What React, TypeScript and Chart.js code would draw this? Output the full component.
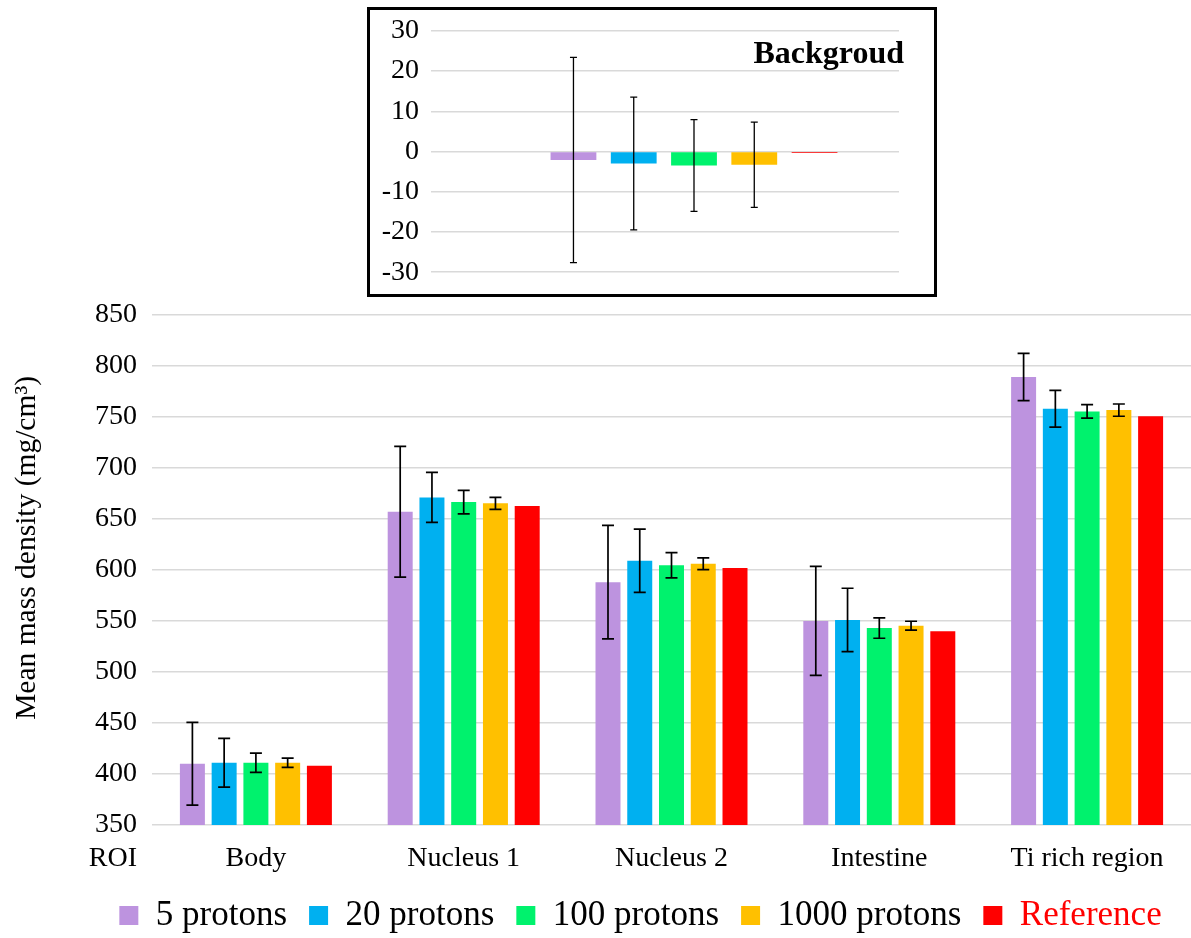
import React, { useEffect, useRef } from 'react';
import { Chart, registerables } from 'chart.js';

Chart.register(...registerables);

const FONT = '"Liberation Serif", "Times New Roman", serif';
Chart.defaults.font.family = FONT;
Chart.defaults.color = '#000';

// ---------- data ----------
const categories = ['Body', 'Nucleus 1', 'Nucleus 2', 'Intestine', 'Ti rich region'];
const seriesNames = ['5 protons', '20 protons', '100 protons', '1000 protons', 'Reference'];
const seriesColors = ['#BD93DF', '#00B0F0', '#00F26D', '#FFC000', '#FF0000'];

const p5 = [410, 657, 588, 550, 789];
const p5Err = [40.5, 64, 55.6, 53.4, 23.2];
const p20 = [411, 671, 609, 551, 758];
const p20Err = [23.9, 24.5, 31, 31, 18];
const p100 = [411, 666.5, 604.5, 543, 755.3];
const p100Err = [9.5, 11.5, 12.4, 10, 6.6];
const p1000 = [411, 665.2, 606, 545.3, 756.6];
const p1000Err = [4.5, 5.9, 5.7, 4.4, 6];
const reference = [408, 662.6, 601.8, 539.8, 750.7];

const mainYTicks = [350, 400, 450, 500, 550, 600, 650, 700, 750, 800, 850];
const yTitle = 'Mean mass density (mg/cm³)';

const bgCategory = ['Backgroud'];
const bgValues = [-2.1, -3.0, -3.5, -3.3, -0.4];
const bgErr = [25.5, 16.5, 11.4, 10.6, null];
const bgYTicks = [-30, -20, -10, 0, 10, 20, 30];

const mainValues = [p5, p20, p100, p1000, reference];
const mainErrs = [p5Err, p20Err, p100Err, p1000Err, null];

// ---------- plugins ----------
function errorBarPlugin(getErr: (di: number, i: number) => number | null, capHalf: number, lw: number) {
  return {
    id: 'errorBars',
    afterDatasetsDraw(chart: any) {
      const { ctx } = chart;
      const y = chart.scales.y;
      ctx.save();
      ctx.strokeStyle = '#000';
      ctx.lineWidth = lw;
      chart.data.datasets.forEach((ds: any, di: number) => {
        const meta = chart.getDatasetMeta(di);
        meta.data.forEach((bar: any, i: number) => {
          const e = getErr(di, i);
          if (e == null) return;
          const v = ds.data[i] as number;
          const x = bar.x;
          const yt = y.getPixelForValue(v + e);
          const yb = y.getPixelForValue(v - e);
          ctx.beginPath();
          ctx.moveTo(x, yt);
          ctx.lineTo(x, yb);
          ctx.moveTo(x - capHalf, yt);
          ctx.lineTo(x + capHalf, yt);
          ctx.moveTo(x - capHalf, yb);
          ctx.lineTo(x + capHalf, yb);
          ctx.stroke();
        });
      });
      ctx.restore();
    },
  };
}

const X_TICK_PAD = 17;
const X_TICK_SIZE = 28;

const labelsPlugin = {
  id: 'extraLabels',
  afterDraw(chart: any) {
    const { ctx, chartArea } = chart;
    const xs = chart.scales.x;
    ctx.save();
    ctx.fillStyle = '#000';
    // "ROI" caption in front of the category labels
    ctx.font = `${X_TICK_SIZE}px ${FONT}`;
    ctx.textAlign = 'right';
    ctx.textBaseline = 'middle';
    ctx.fillText('ROI', chartArea.left - 15, xs.top + X_TICK_PAD + (X_TICK_SIZE * 1.2) / 2);
    // rotated y-axis title
    ctx.translate(27, (chartArea.top + chartArea.bottom) / 2 - 22);
    ctx.rotate(-Math.PI / 2);
    ctx.font = `29.5px ${FONT}`;
    ctx.textAlign = 'center';
    ctx.textBaseline = 'middle';
    ctx.fillText(yTitle, 0, 0);
    ctx.restore();
  },
};

const LEGEND_SHIFT = 45;
const legendShiftPlugin = {
  id: 'legendShift',
  afterLayout(chart: any) {
    const l = chart.legend;
    if (l) {
      l.left += LEGEND_SHIFT;
      l.right += LEGEND_SHIFT;
    }
  },
};

const bgTitlePlugin = {
  id: 'bgTitle',
  afterDraw(chart: any) {
    const { ctx, chartArea } = chart;
    ctx.save();
    ctx.font = `bold 32px ${FONT}`;
    ctx.fillStyle = '#000';
    ctx.textAlign = 'right';
    ctx.textBaseline = 'alphabetic';
    ctx.fillText('Backgroud', chartArea.right + 5, chartArea.top + 31.7);
    ctx.restore();
  },
};

// ---------- main chart ----------
function MainChart() {
  const ref = useRef<HTMLCanvasElement>(null);
  useEffect(() => {
    const chart = new Chart(ref.current as HTMLCanvasElement, {
      type: 'bar',
      data: {
        labels: categories,
        datasets: seriesNames.map((name, i) => ({
          label: name,
          data: mainValues[i],
          backgroundColor: seriesColors[i],
          borderColor: seriesColors[i],
          borderWidth: 0,
          categoryPercentage: 0.764,
          barPercentage: 0.787,
        })),
      },
      options: {
        responsive: false,
        animation: false,
        layout: { padding: 0 },
        plugins: {
          tooltip: { enabled: false },
          legend: {
            position: 'bottom',
            labels: {
              font: { size: 35 },
              boxWidth: 19,
              boxHeight: 19,
              padding: 22,
              color: '#000',
              generateLabels(chart: any) {
                const items = (Chart.defaults.plugins.legend.labels as any).generateLabels(chart);
                items.forEach((it: any, i: number) => {
                  it.lineWidth = 0;
                  it.strokeStyle = seriesColors[i];
                  it.fillStyle = seriesColors[i];
                  it.fontColor = i === items.length - 1 ? '#FF0000' : '#000';
                });
                return items;
              },
            },
          },
        },
        scales: {
          x: {
            grid: { display: false, drawTicks: false },
            border: { display: false },
            ticks: { font: { size: X_TICK_SIZE }, padding: X_TICK_PAD, color: '#000', maxRotation: 0, autoSkip: false },
            afterFit(s: any) {
              s.height = 51;
            },
          },
          y: {
            min: 350,
            max: 850,
            afterBuildTicks(s: any) {
              s.ticks = mainYTicks.map((v) => ({ value: v }));
            },
            grid: { color: '#d9d9d9', lineWidth: 1.5, drawTicks: false },
            border: { display: false },
            ticks: { font: { size: 28 }, padding: 15, color: '#000' },
            afterFit(s: any) {
              s.width = 152;
            },
          },
        },
      } as any,
      plugins: [
        errorBarPlugin((di, i) => (mainErrs[di] ? (mainErrs[di] as number[])[i] : null), 6, 1.7),
        labelsPlugin,
        legendShiftPlugin,
      ],
    });
    return () => chart.destroy();
  }, []);
  return (
    <canvas
      ref={ref}
      width={1191}
      height={660}
      style={{ position: 'absolute', left: 0, top: 283, width: 1191, height: 660 }}
    />
  );
}

// ---------- inset chart ----------
function InsetChart() {
  const ref = useRef<HTMLCanvasElement>(null);
  useEffect(() => {
    const chart = new Chart(ref.current as HTMLCanvasElement, {
      type: 'bar',
      data: {
        labels: bgCategory,
        datasets: seriesNames.map((name, i) => ({
          label: name,
          data: [bgValues[i]],
          backgroundColor: seriesColors[i],
          borderWidth: 0,
          categoryPercentage: 0.735,
          barPercentage: 0.76,
        })),
      },
      options: {
        responsive: false,
        animation: false,
        layout: { padding: { top: 0, bottom: 0, left: 0, right: 35 } },
        plugins: { legend: { display: false }, tooltip: { enabled: false } },
        scales: {
          x: { display: false },
          y: {
            min: -30,
            max: 30,
            afterBuildTicks(s: any) {
              s.ticks = bgYTicks.map((v) => ({ value: v }));
            },
            grid: { color: '#d9d9d9', lineWidth: 1.5, drawTicks: true, tickLength: 58, tickColor: '#d9d9d9' },
            border: { display: false },
            ticks: { font: { size: 28 }, padding: 12, color: '#000' },
            afterFit(s: any) {
              s.width = 119;
            },
          },
        },
      } as any,
      plugins: [errorBarPlugin((di) => bgErr[di], 3.5, 1.3), bgTitlePlugin],
    });
    return () => chart.destroy();
  }, []);
  return (
    <div
      style={{
        position: 'absolute',
        left: 367,
        top: 7,
        width: 570,
        height: 290,
        border: '3px solid #000',
        boxSizing: 'border-box',
        background: '#fff',
      }}
    >
      <canvas
        ref={ref}
        width={564}
        height={299}
        style={{ position: 'absolute', left: 0, top: -8, width: 564, height: 299 }}
      />
    </div>
  );
}

export default function App() {
  return (
    <div
      style={{
        position: 'absolute',
        left: 0,
        top: 0,
        width: 1191,
        height: 938,
        overflow: 'hidden',
        background: '#fff',
      }}
    >
      <MainChart />
      <InsetChart />
    </div>
  );
}
